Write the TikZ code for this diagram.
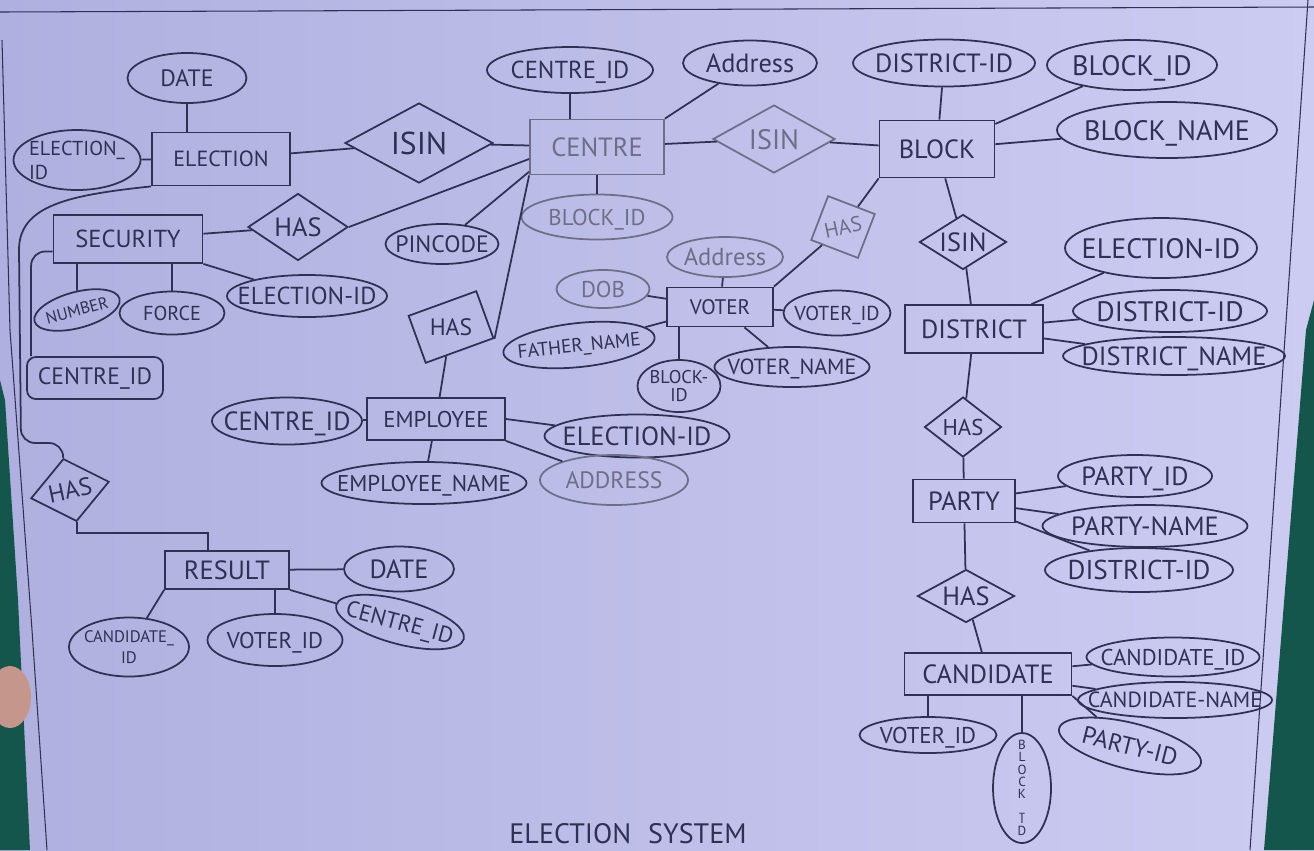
\documentclass[tikz,border=0pt]{standalone}
\usepackage{fontspec}
\setmainfont{PT Sans}
\usepackage{graphicx}
\usetikzlibrary{shapes.geometric, positioning}

\definecolor{ink}{RGB}{48,48,84}
\definecolor{paperL}{RGB}{176,176,224}
\definecolor{paperM}{RGB}{232,232,252}
\definecolor{paperR}{RGB}{204,204,242}
\definecolor{cloth}{RGB}{20,86,76}
\definecolor{skin}{RGB}{196,150,140}

\newcommand\tx[1]{\makebox[0pt]{\smash{\raisebox{-.5\height}{#1}}}}
\newcommand\fsz[1]{\fontsize{#1}{#1}\selectfont}

\begin{document}
\begin{tikzpicture}
	[%
	x=0.02cm, y=-0.02cm, color=ink, line width=1pt,
	entity/.style 2 args={rectangle,	draw,	inner sep=0pt,	minimum width=#1*0.02cm,	minimum height=#2*0.02cm},%
	attrib/.style 2 args={ellipse,		draw,	inner sep=0pt,	minimum width=#1*0.02cm,	minimum height=#2*0.02cm},%
	relate/.style 2 args={diamond,		draw,	inner sep=0pt,	minimum width=#1*0.02cm,	minimum height=#2*0.02cm},%
	faint/.style={color=ink!70},%
	]

	% paper
	\useasboundingbox (0,0) rectangle (1314,850);
	\shade [left color=paperL, middle color=paperM, right color=paperR] (0,0) rectangle (1314,850);
	\fill [cloth] (0,380) -- (5,400) -- (18,600) -- (30,850) -- (0,850) -- cycle;
	\fill [cloth] (1314,300) -- (1306,330) -- (1264,850) -- (1314,850) -- cycle;
	\fill [skin] (10,697) ellipse [x radius=0.42cm, y radius=0.62cm];
	\draw [line width=0.6pt] (0,12) -- (1314,7);
	\draw [line width=0.6pt] (1308,0) -- (1250,850);
	\draw [line width=0.6pt] (2,40) -- (10,330) -- (32,630) -- (47,850);

	% entities
	\node (election)	at (221,159) [entity={138}{53}] {\fsz{12.5}ELECTION};
	\node (centre)		at (597,147) [entity={134}{55}, faint] {\fsz{15}CENTRE};
	\node (block)		at (937,149) [entity={115}{57}] {\fsz{15}BLOCK};
	\node (district)	at (974,329) [entity={138}{48}] {\fsz{15}DISTRICT};
	\node (party)		at (964,501) [entity={102}{43}] {\fsz{15}PARTY};
	\node (cand)		at (988,674) [entity={167}{42}] {\fsz{15}CANDIDATE};
	\node (voter)		at (720,307) [entity={106}{39}] {\fsz{12}VOTER};
	\node (employee)	at (436,419) [entity={138}{42}] {\fsz{13}EMPLOYEE};
	\node (security)	at (128,239) [entity={149}{48}] {\fsz{14}SECURITY};
	\node (result)		at (227,570) [entity={124}{38}] {\fsz{15}RESULT};

	% relationships
	\node (isin1)	at (419,143) [relate={148}{80}] {\tx{\fsz{18}ISIN}};
	\node (isin2)	at (774,139) [relate={122}{68}, faint] {\tx{\fsz{16}ISIN}};
	\node (isin3)	at (963,242) [relate={87}{55}] {\tx{\fsz{15}ISIN}};
	\node (hasd)	at (963,427) [relate={77}{60}] {\tx{\fsz{13}HAS}};
	\node (hasp)	at (966,596) [relate={97}{53}] {\tx{\fsz{15}HAS}};
	\node (hass)	at (298,227) [relate={100}{67}] {\tx{\fsz{15}HAS}};
	\node (hasl)	at (70,490) [relate={80}{64}, rotate=12] {\tx{\fsz{14}HAS}};
	\node (hase)	at (451,327) [entity={72}{50}, rotate=20] {\rotatebox{-20}{\fsz{13.5}HAS}};
	\node (hasv)	at (843,227) [entity={50}{47}, rotate=-21, faint] {\rotatebox{33}{\fsz{12}HAS}};

	% attributes
	\node (edate)	at (187,78) [attrib={119}{50}] {\tx{\fsz{13.5}DATE}};
	\node (eid)		at (77,160) [attrib={127}{60}] {\tx{\fsz{11.5}\shortstack[l]{ELECTION\_\\ ID}}};
	\node (cid)		at (570,70) [attrib={166}{46}] {\tx{\fsz{14}CENTRE\_ID}};
	\node (caddr)	at (750,63) [attrib={134}{45}] {\tx{\fsz{15}Address}};
	\node (cblock)	at (597,217) [attrib={151}{45}, faint] {\tx{\fsz{13}BLOCK\_ID}};
	\node (bdid)	at (944,63) [attrib={182}{47}] {\tx{\fsz{15}DISTRICT-ID}};
	\node (bbid)	at (1132,65) [attrib={170}{50}] {\tx{\fsz{16}BLOCK\_ID}};
	\node (bname)	at (1167,130) [attrib={220}{56}] {\tx{\fsz{16}BLOCK\_NAME}};
	\node (deid)	at (1161,248) [attrib={192}{60}] {\tx{\fsz{16}ELECTION-ID}};
	\node (ddid)	at (1170,311) [attrib={194}{42}] {\tx{\fsz{16}DISTRICT-ID}};
	\node (dname)	at (1174,356) [attrib={222}{38}] {\tx{\fsz{15}DISTRICT\_NAME}};
	\node (pid)		at (1135,476) [attrib={154}{42}] {\tx{\fsz{15}PARTY\_ID}};
	\node (pname)	at (1145,526) [attrib={205}{42}] {\tx{\fsz{15}PARTY-NAME}};
	\node (pdid)	at (1139,570) [attrib={188}{44}] {\tx{\fsz{15.5}DISTRICT-ID}};
	\node (ccid)	at (1173,657) [attrib={173}{39}] {\tx{\fsz{13}CANDIDATE\_ID}};
	\node (cname)	at (1175,700) [attrib={194}{36}] {\tx{\fsz{12.5}CANDIDATE-NAME}};
	\node (cpid)	at (1130,746) [attrib={146}{46}, rotate=-14] {\tx{\fsz{14}PARTY-ID}};
	\node (cvid)	at (928,735) [attrib={137}{36}] {\tx{\fsz{13}VOTER\_ID}};
	\node (cbid)	at (1022,788) [attrib={58}{110}] {\tx{\parbox[b]{1em}{\fontsize{7.5}{7}\selectfont\centering B\\L\\O\\C\\K\\\_\\I\\D}}};
	\node (vaddr)	at (725,257) [attrib={116}{40}, faint] {\tx{\fsz{14}Address}};
	\node (dob)		at (603,289) [attrib={93}{38}, faint] {\tx{\fsz{13}DOB}};
	\node (fname)	at (579,345) [attrib={152}{44}, rotate=6] {\tx{\fsz{11}FATHER\_NAME}};
	\node (vblock)	at (679,386) [attrib={83}{52}] {\tx{\fsz{10.5}\shortstack{BLOCK-\\ID}}};
	\node (vname)	at (792,367) [attrib={155}{40}] {\tx{\fsz{12.5}VOTER\_NAME}};
	\node (vid)		at (837,313) [attrib={107}{45}] {\tx{\fsz{11.5}VOTER\_ID}};
	\node (pin)		at (442,244) [attrib={113}{40}] {\tx{\fsz{13.5}PINCODE}};
	\node (ecid)	at (287,421) [attrib={150}{47}] {\tx{\fsz{15}CENTRE\_ID}};
	\node (eeid)	at (637,436) [attrib={185}{43}] {\tx{\fsz{15}ELECTION-ID}};
	\node (ename)	at (424,483) [attrib={205}{42}] {\tx{\fsz{13}EMPLOYEE\_NAME}};
	\node (eaddr)	at (614,480) [attrib={148}{50}, faint] {\tx{\fsz{13.5}ADDRESS}};
	\node (num)		at (77,310) [attrib={88}{36}, rotate=15] {\tx{\fsz{9.5}NUMBER}};
	\node (force)	at (172,313) [attrib={105}{43}] {\tx{\fsz{11.5}FORCE}};
	\node (seid)	at (307,296) [attrib={160}{42}] {\tx{\fsz{14}ELECTION-ID}};
	\node (scid)	at (95,378) [entity={136}{42}, rounded corners=5pt] {\fsz{13.5}CENTRE\_ID};
	\node (rdate)	at (399,569) [attrib={110}{45}] {\tx{\fsz{15}DATE}};
	\node (rcand)	at (129,647) [attrib={120}{59}] {\tx{\fsz{9.5}\shortstack{CANDIDATE\_\\ID}}};
	\node (rvid)	at (275,640) [attrib={135}{52}] {\tx{\fsz{13}VOTER\_ID}};
	\node (rcent)	at (400,622) [attrib={132}{44}, rotate=-15] {\tx{\fsz{13}CENTRE\_ID}};

	\node (title)	at (628,834) {\fsz{16}ELECTION\hspace{0.6em}SYSTEM};

	% bends
	\coordinate (lb1) at (19,250);
	\coordinate (lb2) at (21,443);
	\coordinate (rb) at (208,533);

	% relationship links
	\foreach \a/\b in {eid/election, election/isin1, isin1/centre, centre/isin2, isin2/block,%
		block/isin3, isin3/district, district/hasd, hasd/party, party/hasp, hasp/cand,%
		security/hass, hase/employee}
		\draw (\a) -- (\b);
	\draw (centre.190) -- (hass.east);
	\draw (centre.200) -- (pin);
	\draw (centre.south west) -- (hase.south east);
	\draw (block.south west) -- (hasv);
	\draw (hasv) -- (voter.north east);
	\draw (election.south west) .. controls (70,195) and (19,205) .. (lb1);
	\draw [rounded corners=8pt] (lb1) -- (lb2) -- (hasl.north |- lb2) -- (hasl.north);
	\draw (hasl.south) |- (rb) -- (rb |- result.north);

	% attribute links
	\draw (edate) -- (edate |- election.north);
	\draw (centre.north -| cid) -- (cid);
	\draw (centre.north east) -- (caddr);
	\draw (centre) -- (cblock);
	\foreach \a in {bdid, bbid, bname} \draw (block) -- (\a);
	\foreach \a in {deid, ddid, dname} \draw (district) -- (\a);
	\foreach \a in {pid, pname, pdid} \draw (party) -- (\a);
	\foreach \a in {ccid, cname} \draw (cand) -- (\a);
	\draw (cand.south east) -- (cpid);
	\draw (cand.south -| cvid) -- (cvid);
	\draw (cand.south -| cbid) -- (cbid);
	\foreach \a in {vaddr, dob, fname, vname, vid} \draw (voter) -- (\a);
	\draw (voter.south -| vblock) -- (vblock);
	\foreach \a in {ecid, ename} \draw (employee) -- (\a);
	\draw (employee.east) -- (eeid);
	\draw (employee.south east) -- (eaddr);
	\draw (security.south -| num) -- (num);
	\draw (security.south -| force) -- (force);
	\draw (security.south east) -- (seid);
	\draw [rounded corners=8pt] ([yshift=-0.25cm]security.west) -| ([xshift=0.1cm]scid.north west);
	\draw (result) -- (rdate);
	\draw (result.south west) -- (rcand);
	\draw (result.south -| rvid) -- (rvid);
	\draw (result.south east) -- (rcent);

\end{tikzpicture}
\end{document}
